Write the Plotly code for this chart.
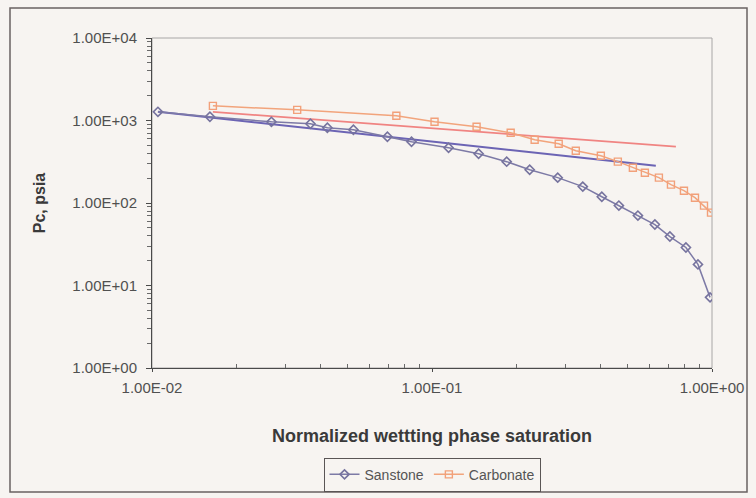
import plotly.graph_objects as go

# Sandstone capillary pressure data
sand_sw = [0.0105, 0.0161, 0.0267, 0.0368, 0.0423, 0.0524, 0.0693, 0.0845, 0.1146, 0.1467,
           0.1848, 0.2233, 0.2812, 0.3455, 0.4041, 0.4649, 0.5437, 0.6252, 0.7073, 0.807,
           0.891, 0.984]
sand_pc = [1274, 1109, 964, 912, 816, 772, 635, 552, 468, 395,
           317, 253, 203, 158, 119, 93, 70.4, 54.8, 39.2, 28.9,
           18.0, 7.18]

# Carbonate capillary pressure data
carb_sw = [0.0165, 0.0330, 0.0746, 0.1021, 0.1443, 0.1910, 0.2326, 0.2835, 0.3262, 0.4009,
           0.4610, 0.5217, 0.5758, 0.6462, 0.7135, 0.7940, 0.8694, 0.9363, 0.9918]
carb_pc = [1506, 1346, 1140, 964, 839, 710, 584, 523, 430, 374,
           317, 268, 233, 203, 167, 141, 116, 93, 76.5]

# Power-law trend lines (end points)
sand_fit_sw = [0.0105, 0.630]
sand_fit_pc = [1274, 283]
carb_fit_sw = [0.0165, 0.743]
carb_fit_pc = [1274, 481]

x_ticks = [0.01, 0.1, 1]
x_labels = ["1.00E-02", "1.00E-01", "1.00E+00"]
y_ticks = [1, 10, 100, 1000, 10000]
y_labels = ["1.00E+00", "1.00E+01", "1.00E+02", "1.00E+03", "1.00E+04"]
minor_mult = [2, 3, 4, 5, 6, 7, 8, 9]
x_minor = [d * m for d in x_ticks[:-1] for m in minor_mult]
y_minor = [d * m for d in y_ticks[:-1] for m in minor_mult]

BG = "#f7f4f1"
FONT = "Liberation Sans, Arial, sans-serif"

fig = go.Figure()

fig.add_trace(go.Scatter(x=sand_fit_sw, y=sand_fit_pc, mode="lines",
                         line=dict(color="#6c64b4", width=2), showlegend=False, hoverinfo="skip"))
fig.add_trace(go.Scatter(x=carb_fit_sw, y=carb_fit_pc, mode="lines",
                         line=dict(color="#f08482", width=1.8), showlegend=False, hoverinfo="skip"))
fig.add_trace(go.Scatter(x=sand_sw, y=sand_pc, mode="lines+markers", name="Sanstone",
                         line=dict(color="#7d7aa6", width=1.5),
                         marker=dict(symbol="diamond-open", size=7, color="#76739e",
                                     line=dict(width=1.6))))
fig.add_trace(go.Scatter(x=carb_sw, y=carb_pc, mode="lines+markers", name="Carbonate",
                         line=dict(color="#f2a47c", width=1.5),
                         marker=dict(symbol="square-open", size=7, color="#f2a07a",
                                     line=dict(width=1.4))))

# plot area border (top/right light gray)
fig.add_shape(type="rect", xref="paper", yref="paper", x0=0, y0=0, x1=1, y1=1,
              line=dict(color="#a8a6a6", width=1), layer="below")
# outer chart frame
fig.add_shape(type="rect", xref="paper", yref="paper",
              x0=(10 - 152) / 560, x1=(747 - 152) / 560,
              y0=(368 - 492) / 330, y1=(368 - 8) / 330,
              line=dict(color="#6a6262", width=1.5), layer="below")

fig.update_layout(
    width=756, height=498,
    margin=dict(l=152, r=44, t=38, b=130, autoexpand=False),
    paper_bgcolor=BG, plot_bgcolor=BG,
    font=dict(family=FONT, color="#4a4a4a", size=15),
    showlegend=True,
    legend=dict(orientation="h", x=0.5, xanchor="center", y=-0.272, yanchor="top",
                bgcolor=BG, bordercolor="#5a5555", borderwidth=1,
                font=dict(size=14, color="#555"), itemwidth=30, tracegroupgap=0),
    xaxis=dict(type="log", range=[-2, 0], tickvals=x_ticks, ticktext=x_labels,
               automargin=False,
               showgrid=False, zeroline=False, showline=True, linecolor="#4a4a4a", linewidth=1,
               ticks="outside", ticklen=3, tickcolor="#4a4a4a", ticklabelstandoff=3,
               minor=dict(tickvals=x_minor, ticks="inside", ticklen=4, tickcolor="#6a6a6a",
                          showgrid=False),
               tickfont=dict(size=15, color="#505050"),
               title=dict(text="<b>Normalized wettting phase saturation</b>",
                          font=dict(size=18, color="#3a3a3a"), standoff=34)),
    yaxis=dict(type="log", range=[0, 4], tickvals=y_ticks, ticktext=y_labels,
               automargin=False,
               showgrid=False, zeroline=False, showline=True, linecolor="#4a4a4a", linewidth=1,
               ticks="outside", ticklen=5, tickcolor="#4a4a4a", ticklabelstandoff=6,
               minor=dict(tickvals=y_minor, ticks="outside", ticklen=4, tickcolor="#6a6a6a",
                          showgrid=False),
               tickfont=dict(size=15, color="#505050"),
               title=dict(text="<b>Pc, psia</b>", font=dict(size=16, color="#3a3a3a"), standoff=22)),
)

fig.write_html("out.html")
